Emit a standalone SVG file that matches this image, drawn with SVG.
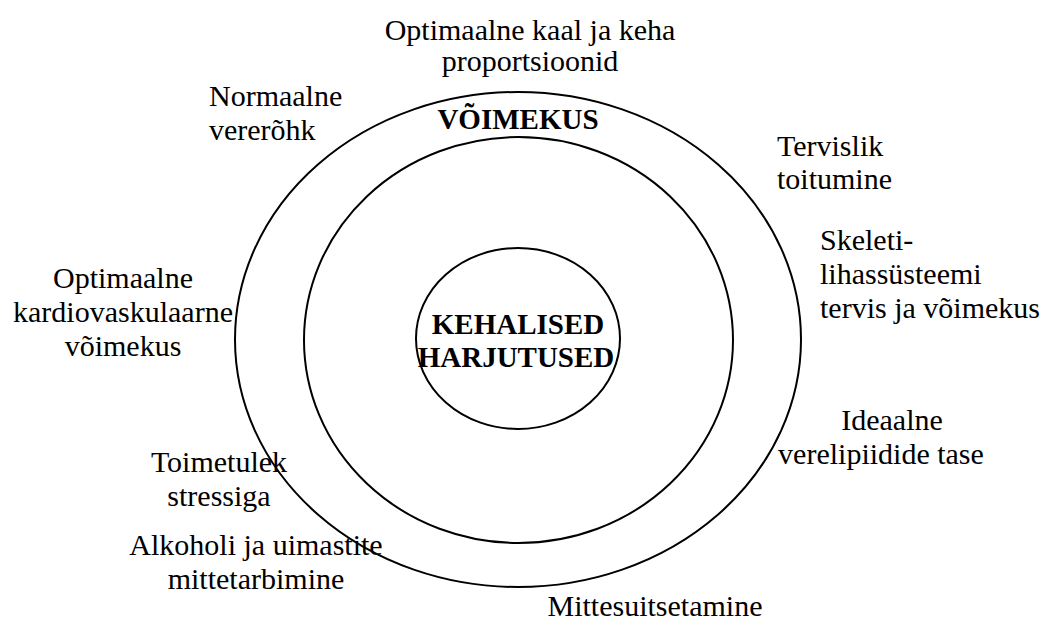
<svg xmlns="http://www.w3.org/2000/svg" width="1044" height="623" viewBox="0 0 1044 623">
<style>
.ring{fill:none;stroke:#000;stroke-width:2}
.t{font-family:"Liberation Serif","Times New Roman",serif;font-size:30px;fill:#000}
.b{font-family:"Liberation Serif","Times New Roman",serif;font-size:29px;font-weight:bold;fill:#000}
.m{text-anchor:middle}
</style>
<rect width="1044" height="623" fill="#fff"/>
<g id="outer"><ellipse class="ring" cx="518" cy="339.5" rx="283" ry="247.5"/></g>
<g id="middle"><ellipse class="ring" cx="518.5" cy="340" rx="214.5" ry="203"/></g>
<g id="inner"><ellipse class="ring" cx="518" cy="338.5" rx="102" ry="90.5"/></g>
<g id="connectors"></g>
<g id="label-voimekus"><text class="b m" x="518" y="129">VÕIMEKUS</text></g>
<g id="label-center"><text class="b m" x="518" y="334">KEHALISED</text><text class="b m" x="516" y="367">HARJUTUSED</text></g>
<g id="label-kaal"><text class="t m" x="530" y="40">Optimaalne kaal ja keha</text><text class="t m" x="530" y="71">proportsioonid</text></g>
<g id="label-vererohk"><text class="t" x="209" y="106">Normaalne</text><text class="t" x="209" y="140">vererõhk</text></g>
<g id="label-toitumine"><text class="t" x="777" y="156">Tervislik</text><text class="t" x="777" y="189">toitumine</text></g>
<g id="label-skeleti"><text class="t" x="820" y="250">Skeleti-</text><text class="t" x="820" y="284">lihassüsteemi</text><text class="t" x="820" y="318">tervis ja võimekus</text></g>
<g id="label-kardio"><text class="t m" x="123" y="288">Optimaalne</text><text class="t m" x="123" y="322">kardiovaskulaarne</text><text class="t m" x="123" y="356">võimekus</text></g>
<g id="label-lipiidid"><text class="t m" x="892" y="430">Ideaalne</text><text class="t m" x="881" y="464">verelipiidide tase</text></g>
<g id="label-stress"><text class="t m" x="219" y="472">Toimetulek</text><text class="t m" x="219" y="506">stressiga</text></g>
<g id="label-alkohol"><text class="t m" x="256" y="555">Alkoholi ja uimastite</text><text class="t m" x="256" y="589">mittetarbimine</text></g>
<g id="label-suits"><text class="t m" x="655" y="616">Mittesuitsetamine</text></g>
</svg>
